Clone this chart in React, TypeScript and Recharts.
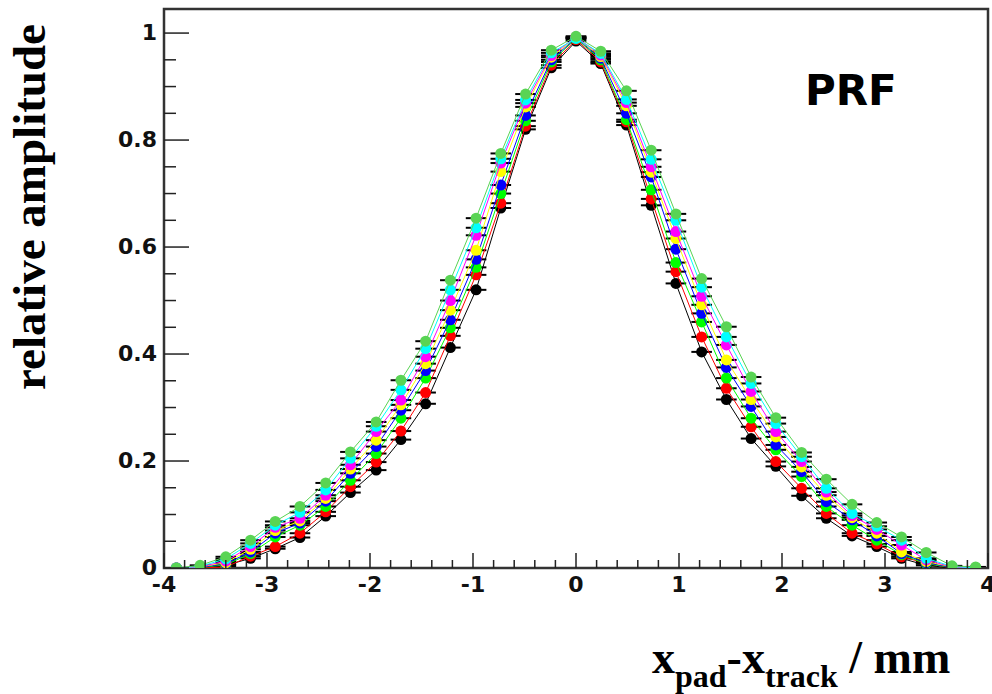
import { ComposedChart, Scatter, XAxis, YAxis, ErrorBar, ReferenceArea } from 'recharts';

// x positions of the pads (mm), shared by every curve
const xPositions = [
  -3.88, -3.65, -3.4, -3.16, -2.92, -2.68, -2.43, -2.19, -1.94, -1.7, -1.46, -1.22, -0.97, -0.73, -0.49, -0.24,
  0, 0.24, 0.49, 0.73, 0.97, 1.22, 1.46, 1.7, 1.94, 2.19, 2.43, 2.68, 2.92, 3.16, 3.4, 3.65, 3.88,
];
const xError = 0.1;

const blackValues = [0, 0, 0.005, 0.018, 0.036, 0.057, 0.097, 0.141, 0.183, 0.24, 0.307, 0.412, 0.52, 0.673, 0.82, 0.935, 0.985, 0.943, 0.828, 0.678, 0.532, 0.404, 0.315, 0.242, 0.19, 0.135, 0.093, 0.06, 0.04, 0.018, 0.005, 0, 0];
const redValues = [0, 0, 0.002, 0.022, 0.04, 0.065, 0.105, 0.152, 0.198, 0.256, 0.328, 0.434, 0.548, 0.682, 0.826, 0.94, 0.988, 0.946, 0.834, 0.69, 0.554, 0.432, 0.336, 0.264, 0.199, 0.149, 0.102, 0.065, 0.045, 0.021, 0.009, 0, 0];
const greenValues = [0, 0.001, 0.006, 0.027, 0.058, 0.08, 0.115, 0.164, 0.214, 0.28, 0.355, 0.449, 0.562, 0.7, 0.836, 0.946, 0.99, 0.95, 0.838, 0.707, 0.571, 0.46, 0.355, 0.28, 0.221, 0.171, 0.115, 0.08, 0.052, 0.025, 0.008, 0.001, 0];
const blueValues = [0, 0.001, 0.008, 0.03, 0.065, 0.084, 0.125, 0.177, 0.227, 0.295, 0.369, 0.464, 0.577, 0.716, 0.846, 0.95, 0.991, 0.953, 0.85, 0.731, 0.596, 0.476, 0.375, 0.302, 0.23, 0.18, 0.124, 0.09, 0.06, 0.027, 0.01, 0.001, 0];
const yellowValues = [0, 0.002, 0.01, 0.035, 0.07, 0.088, 0.13, 0.185, 0.239, 0.305, 0.382, 0.482, 0.594, 0.741, 0.862, 0.955, 0.992, 0.956, 0.864, 0.74, 0.616, 0.492, 0.389, 0.315, 0.245, 0.189, 0.136, 0.094, 0.065, 0.03, 0.012, 0.002, 0];
const magentaValues = [0, 0.002, 0.013, 0.04, 0.076, 0.093, 0.136, 0.193, 0.255, 0.314, 0.395, 0.5, 0.622, 0.757, 0.869, 0.958, 0.993, 0.959, 0.87, 0.75, 0.629, 0.508, 0.417, 0.33, 0.255, 0.199, 0.142, 0.098, 0.072, 0.043, 0.015, 0.002, 0];
const cyanValues = [0, 0.003, 0.017, 0.046, 0.08, 0.104, 0.146, 0.205, 0.265, 0.333, 0.41, 0.52, 0.636, 0.765, 0.875, 0.963, 0.99, 0.962, 0.876, 0.764, 0.65, 0.525, 0.432, 0.345, 0.27, 0.208, 0.149, 0.102, 0.078, 0.052, 0.018, 0.003, 0];
const lightGreenValues = [0, 0.005, 0.021, 0.052, 0.087, 0.115, 0.159, 0.217, 0.273, 0.351, 0.424, 0.538, 0.654, 0.775, 0.886, 0.968, 0.994, 0.966, 0.892, 0.781, 0.662, 0.541, 0.451, 0.357, 0.281, 0.216, 0.166, 0.119, 0.085, 0.058, 0.029, 0.004, 0.002];

const xMajorTicks = [-4, -3, -2, -1, 0, 1, 2, 3, 4];
const yMajorTicks = [0, 0.2, 0.4, 0.6, 0.8, 1];
const yMax = 1.045;

// drawn in this order, so the widest (light green) ends up on top
const series = [
  { name: 'black', color: '#000000', values: blackValues },
  { name: 'red', color: '#ff0000', values: redValues },
  { name: 'green', color: '#00ff00', values: greenValues },
  { name: 'blue', color: '#0000ff', values: blueValues },
  { name: 'yellow', color: '#ffff00', values: yellowValues },
  { name: 'magenta', color: '#ff00ff', values: magentaValues },
  { name: 'cyan', color: '#00ffff', values: cyanValues },
  { name: 'lightgreen', color: '#59d454', values: lightGreenValues },
];

const toPoints = (values: number[]) => xPositions.map((x, i) => ({ x, y: values[i], ex: xError }));

// minor ticks: 5 per unit on x, 4 per 0.2 on y
const xTicks: number[] = [];
xMajorTicks.forEach((t, i) => {
  if (i === xMajorTicks.length - 1) { xTicks.push(t); return; }
  for (let k = 0; k < 5; k++) xTicks.push(+(t + k * 0.2).toFixed(2));
});
const yTicks: number[] = [];
yMajorTicks.forEach((t, i) => {
  if (i === yMajorTicks.length - 1) { yTicks.push(t); return; }
  for (let k = 0; k < 4; k++) yTicks.push(+(t + k * 0.05).toFixed(2));
});

const tickFont = { fontFamily: '"DejaVu Sans", sans-serif', fontWeight: 700, fontSize: 22, fill: '#111' };

function XTick(props: any) {
  const { x, y, payload } = props;
  const v = payload.value as number;
  const major = xMajorTicks.some((t) => Math.abs(t - v) < 1e-6);
  return (
    <g>
      <line x1={x} x2={x} y1={y} y2={y - (major ? 15 : 8)} stroke="#222" strokeWidth={1.5} />
      {major && (
        <text x={x} y={y + 24} textAnchor="middle" {...tickFont}>
          {String(Math.round(v))}
        </text>
      )}
    </g>
  );
}

function YTick(props: any) {
  const { x, y, payload } = props;
  const v = payload.value as number;
  const major = yMajorTicks.some((t) => Math.abs(t - v) < 1e-6);
  const label = v === 0 ? '0' : Math.abs(v - 1) < 1e-6 ? '1' : v.toFixed(1);
  return (
    <g>
      <line x1={x} x2={x + (major ? 25 : 12)} y1={y} y2={y} stroke="#222" strokeWidth={1.5} />
      {major && (
        <text x={x - 7} y={y + 7} textAnchor="end" {...tickFont}>
          {label}
        </text>
      )}
    </g>
  );
}

const dot = (color: string) => (props: any) => <circle cx={props.cx} cy={props.cy} r={5.5} fill={color} />;

export default function App() {
  return (
    <div style={{ position: 'absolute', left: 0, top: 0, width: 992, height: 694, background: '#fff' }}>
      <ComposedChart width={992} height={694} margin={{ top: 9, right: 4, bottom: 86, left: 104 }}>
        <XAxis
          type="number"
          dataKey="x"
          domain={[-4, 4]}
          ticks={xTicks}
          interval={0}
          allowDataOverflow
          height={40}
          tickSize={0}
          tickMargin={0}
          tickLine={false}
          axisLine={{ stroke: '#333', strokeWidth: 2 }}
          tick={<XTick />}
        />
        <YAxis
          type="number"
          dataKey="y"
          domain={[0, yMax]}
          ticks={yTicks}
          interval={0}
          allowDataOverflow
          width={60}
          tickSize={0}
          tickMargin={0}
          tickLine={false}
          axisLine={{ stroke: '#333', strokeWidth: 2 }}
          tick={<YTick />}
        />
        <ReferenceArea x1={-4} x2={4} y1={0} y2={yMax} fill="none" stroke="#333" strokeWidth={2.5} />
        {series.map((s) => (
          <Scatter
            key={s.name}
            name={s.name}
            data={toPoints(s.values)}
            fill={s.color}
            shape={dot(s.color)}
            line={{ stroke: s.color, strokeWidth: 1 }}
            lineType="joint"
            isAnimationActive={false}
          >
            <ErrorBar dataKey="ex" direction="x" width={0} stroke="#000" strokeWidth={2} />
          </Scatter>
        ))}
      </ComposedChart>
      <svg width={992} height={694} style={{ position: 'absolute', left: 0, top: 0, pointerEvents: 'none' }}>
        <text x={805} y={105} fontFamily='"DejaVu Sans", sans-serif' fontWeight={700} fontSize={42} fill="#000">
          PRF
        </text>
        <text
          x={45}
          y={207}
          textAnchor="middle"
          transform="rotate(-90 45 207)"
          fontFamily='"Liberation Serif", serif'
          fontWeight={700}
          fontSize={47}
          fill="#000"
        >
          relative amplitude
        </text>
        <text x={652} y={673} fontFamily='"Liberation Serif", serif' fontWeight={700} fontSize={46} fill="#000">
          <tspan>x</tspan>
          <tspan fontSize={32} dy={14}>pad</tspan>
          <tspan dy={-14}>-x</tspan>
          <tspan fontSize={32} dy={14}>track</tspan>
          <tspan dy={-14}> / mm</tspan>
        </text>
      </svg>
    </div>
  );
}
